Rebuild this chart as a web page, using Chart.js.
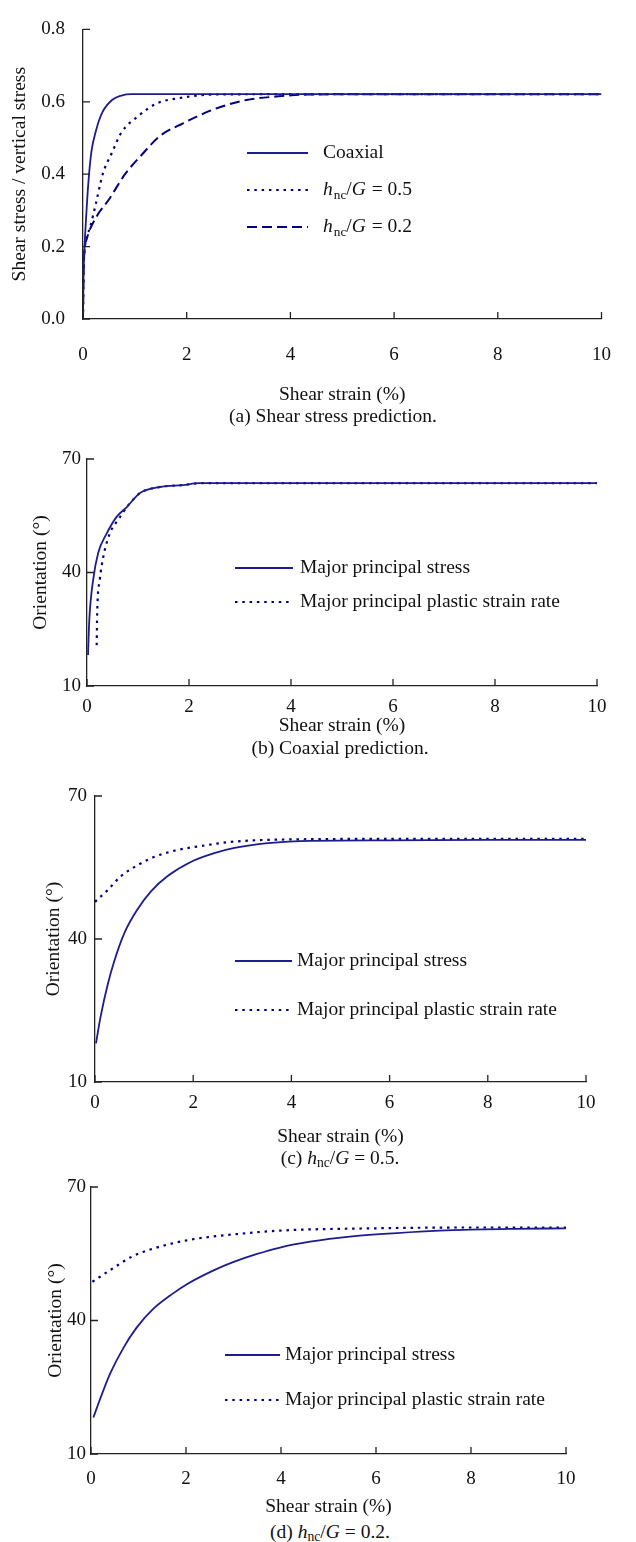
<!DOCTYPE html>
<html>
<head>
<meta charset="utf-8">
<script src="https://cdn.jsdelivr.net/npm/chart.js@4/dist/chart.umd.min.js"></script>
<style>
  body { margin: 0; background: #fff; }
  #page { position: relative; width: 636px; height: 1542px; overflow: hidden; }
  .panel { position: absolute; left: 0; }
  .cap { position: absolute; transform: translateX(-50%); white-space: nowrap;
         font-family: "Liberation Serif", serif; font-size: 19.5px; line-height: 22px; color: #111; }
  .cap sub { font-size: 0.7em; vertical-align: -0.25em; line-height: 0; }
</style>
</head>
<body>
<div id="page">
  <canvas id="cA" class="panel" width="636" height="410" style="top:0px"></canvas>
  <canvas id="cB" class="panel" width="636" height="310" style="top:430px"></canvas>
  <canvas id="cC" class="panel" width="636" height="380" style="top:770px"></canvas>
  <canvas id="cD" class="panel" width="636" height="360" style="top:1160px"></canvas>
  <div class="cap" style="left:333px; top:405px">(a) Shear stress prediction.</div>
  <div class="cap" style="left:340px; top:737px">(b) Coaxial prediction.</div>
  <div class="cap" style="left:340px; top:1147px">(c) <i>h</i><sub>nc</sub>/<i>G</i> = 0.5.</div>
  <div class="cap" style="left:330px; top:1521px">(d) <i>h</i><sub>nc</sub>/<i>G</i> = 0.2.</div>
</div>
<script>
// (a) shear stress / vertical stress vs shear strain (%)
const strainA_coax = [0, 0.01, 0.03, 0.06, 0.1, 0.16, 0.25, 0.37, 0.56, 0.74, 0.93, 2, 4, 6, 8, 10];
const stressA_coax = [0, 0.12, 0.2, 0.28, 0.37, 0.46, 0.52, 0.57, 0.605, 0.617, 0.621, 0.621, 0.621, 0.621, 0.621, 0.621];
const strainA_05 = [0, 0.01, 0.03, 0.13, 0.25, 0.38, 0.56, 0.74, 1.06, 1.43, 1.85, 2.47, 4, 6, 8, 10];
const stressA_05 = [0, 0.12, 0.19, 0.25, 0.32, 0.40, 0.46, 0.515, 0.56, 0.596, 0.61, 0.62, 0.621, 0.621, 0.621, 0.621];
const strainA_02 = [0, 0.01, 0.03, 0.07, 0.25, 0.5, 0.81, 1.11, 1.48, 1.92, 2.54, 3.15, 3.77, 4.33, 6, 8, 10];
const stressA_02 = [0, 0.12, 0.19, 0.22, 0.28, 0.33, 0.40, 0.45, 0.505, 0.54, 0.58, 0.605, 0.615, 0.62, 0.621, 0.621, 0.621];

// (b) coaxial: orientation (deg)
const strainB_stress = [0.02, 0.045, 0.12, 0.22, 0.39, 0.58, 0.78, 1.04, 1.43, 1.88, 2.2, 4, 6, 8, 10];
const angleB_stress = [18.2, 27.4, 38, 45.2, 50.4, 54.7, 57.3, 61, 62.6, 63.1, 63.6, 63.6, 63.6, 63.6, 63.6];
const strainB_rate = [0.19, 0.2, 0.25, 0.32, 0.45, 0.61, 0.81, 1.04, 1.43, 1.88, 2.2, 4, 6, 8, 10];
const angleB_rate = [20.8, 29.3, 38, 44.2, 50.4, 53.9, 57.8, 61, 62.6, 63.1, 63.6, 63.6, 63.6, 63.6, 63.6];

// (c) hnc/G = 0.5
const strainC_stress = [0.02, 0.11, 0.26, 0.39, 0.6, 0.87, 1.14, 1.48, 1.96, 2.43, 2.84, 3.52, 4.4, 6, 8, 10];
const angleC_stress = [18.1, 23.5, 30.5, 35.3, 41.3, 46.3, 50.0, 53.2, 56.2, 58, 59.1, 60.1, 60.6, 60.7, 60.8, 60.8];
const strainC_rate = [0, 0.26, 0.53, 0.87, 1.2, 1.69, 2.16, 2.7, 3.52, 6, 8, 10];
const angleC_rate = [47.8, 50.3, 53.2, 55.5, 57.2, 58.7, 59.5, 60.3, 60.8, 61, 61, 61];

// (d) hnc/G = 0.2
const strainD_stress = [0.05, 0.19, 0.4, 0.68, 0.96, 1.31, 1.73, 2.01, 2.57, 2.99, 3.48, 3.98, 4.61, 5.5, 6.36, 7.62, 8.89, 10];
const angleD_stress = [18.2, 22.3, 28.0, 33.8, 38.4, 42.6, 46.1, 48.1, 51.2, 53.1, 54.9, 56.4, 57.7, 58.9, 59.6, 60.3, 60.6, 60.7];
const strainD_rate = [0.03, 0.4, 0.89, 1.45, 2.01, 2.36, 2.86, 3.98, 5.87, 8, 10];
const angleD_rate = [48.7, 51.3, 54.5, 56.6, 58.0, 58.6, 59.2, 60.2, 60.7, 60.9, 60.9];

// legend labels (rich text parts)
const labelCoaxial = [{ t: 'Coaxial' }];
const label05 = [{ t: 'h', i: true }, { t: 'nc', sub: true }, { t: '/' }, { t: 'G', i: true }, { t: ' = 0.5' }];
const label02 = [{ t: 'h', i: true }, { t: 'nc', sub: true }, { t: '/' }, { t: 'G', i: true }, { t: ' = 0.2' }];
const labelStress = [{ t: 'Major principal stress' }];
const labelRate = [{ t: 'Major principal plastic strain rate' }];

const FONT = 'Liberation Serif';
const SOLID = '#1c1c8e';
const NAVY = '#000080';

const pts = (xs, ys) => xs.map((x, i) => ({ x: x, y: ys[i] }));

function solid(xs, ys, parts) {
  return { data: pts(xs, ys), parts: parts, borderColor: SOLID, borderWidth: 1.8, pointRadius: 0, cubicInterpolationMode: 'monotone' };
}
function dotted(xs, ys, parts) {
  return { data: pts(xs, ys), parts: parts, borderColor: NAVY, borderWidth: 2.2, borderDash: [2.5, 4.8], pointRadius: 0, cubicInterpolationMode: 'monotone' };
}
function dashed(xs, ys, parts) {
  return { data: pts(xs, ys), parts: parts, borderColor: NAVY, borderWidth: 2, borderDash: [10, 5], pointRadius: 0, cubicInterpolationMode: 'monotone' };
}

// inward tick marks on both axes
const inTicks = {
  id: 'inTicks',
  afterDraw(chart) {
    const { ctx, chartArea: a, scales: { x, y } } = chart;
    ctx.save();
    ctx.strokeStyle = '#222';
    ctx.lineWidth = 1.3;
    ctx.beginPath();
    x.ticks.forEach(t => {
      const px = x.getPixelForValue(t.value);
      ctx.moveTo(px, a.bottom); ctx.lineTo(px, a.bottom - 7);
    });
    y.ticks.forEach(t => {
      const py = y.getPixelForValue(t.value);
      ctx.moveTo(a.left, py); ctx.lineTo(a.left + 7, py);
    });
    ctx.stroke();
    ctx.restore();
  }
};

// legend with italic / subscript text
const richLegend = {
  id: 'richLegend',
  afterDatasetsDraw(chart, args, opts) {
    const ctx = chart.ctx;
    ctx.save();
    chart.data.datasets.forEach((ds, i) => {
      const y = opts.ys[i];
      ctx.strokeStyle = ds.borderColor;
      ctx.lineWidth = ds.borderWidth;
      ctx.setLineDash(ds.borderDash || []);
      ctx.beginPath(); ctx.moveTo(opts.x0, y); ctx.lineTo(opts.x1, y); ctx.stroke();
      ctx.setLineDash([]);
      ctx.fillStyle = '#111';
      ctx.textBaseline = 'middle';
      let x = opts.textX;
      ds.parts.forEach(p => {
        const size = p.sub ? opts.size * 0.68 : opts.size;
        ctx.font = (p.i ? 'italic ' : '') + size + 'px "' + FONT + '"';
        ctx.fillText(p.t, x, y + (p.sub ? opts.size * 0.3 : 0));
        x += ctx.measureText(p.t).width + (p.i ? 1 : 0);
      });
    });
    ctx.restore();
  }
};

function makePanel(id, datasets, o) {
  return new Chart(document.getElementById(id), {
    type: 'line',
    data: { datasets: datasets },
    plugins: [inTicks, richLegend],
    options: {
      responsive: false,
      animation: false,
      layout: { padding: { left: 0, bottom: 0, top: o.top, right: o.right } },
      plugins: {
        legend: { display: false },
        tooltip: { enabled: false },
        richLegend: o.legend
      },
      scales: {
        x: {
          type: 'linear', min: 0, max: 10,
          afterFit: s => { s.height = o.xh; },
          grid: { display: false, drawTicks: false },
          border: { display: true, color: '#222', width: 1.3 },
          ticks: { stepSize: 2, padding: o.xpad, color: '#111', font: { family: FONT, size: 19 } },
          title: { display: true, text: 'Shear strain (%)', color: '#111',
                   padding: { top: 0, bottom: o.xtpad }, font: { family: FONT, size: 19.5 } }
        },
        y: {
          type: 'linear', min: o.ymin, max: o.ymax,
          afterFit: s => { s.width = o.yw; },
          grid: { display: false, drawTicks: false },
          border: { display: true, color: '#222', width: 1.3 },
          ticks: { stepSize: o.ystep, padding: o.ypad, color: '#111', font: { family: FONT, size: 19 },
                   callback: o.yfmt || (v => v) },
          title: { display: true, text: o.ytitle, color: '#111',
                   padding: { top: o.ytpad, bottom: 0 }, font: { family: FONT, size: 19.5 } }
        }
      }
    }
  });
}

makePanel('cA', [
  solid(strainA_coax, stressA_coax, labelCoaxial),
  dotted(strainA_05, stressA_05, label05),
  dashed(strainA_02, stressA_02, label02)
], {
  top: 25, right: 12, xh: 91, yw: 83, xpad: 25, xtpad: 3, ypad: 18, ytpad: 8,
  ymin: 0, ymax: 0.8, ystep: 0.2, yfmt: v => v.toFixed(1), ytitle: 'Shear stress / vertical stress',
  legend: { x0: 247, x1: 308, textX: 323, ys: [153, 190, 227], size: 19.5 }
});

makePanel('cB', [
  solid(strainB_stress, angleB_stress, labelStress),
  dotted(strainB_rate, angleB_rate, labelRate)
], {
  top: 29, right: 39, xh: 54, yw: 87, xpad: 10, xtpad: 2, ypad: 6, ytpad: 29,
  ymin: 10, ymax: 70, ystep: 30, ytitle: 'Orientation (°)',
  legend: { x0: 235, x1: 293, textX: 300, ys: [138, 172], size: 19.5 }
});

makePanel('cC', [
  solid(strainC_stress, angleC_stress, labelStress),
  dotted(strainC_rate, angleC_rate, labelRate)
], {
  top: 26, right: 50, xh: 68, yw: 95, xpad: 10, xtpad: 1, ypad: 8, ytpad: 42,
  ymin: 10, ymax: 70, ystep: 30, ytitle: 'Orientation (°)',
  legend: { x0: 235, x1: 292, textX: 297, ys: [191, 240], size: 19.5 }
});

makePanel('cD', [
  solid(strainD_stress, angleD_stress, labelStress),
  dotted(strainD_rate, angleD_rate, labelRate)
], {
  top: 27, right: 70, xh: 66, yw: 91, xpad: 14, xtpad: 1, ypad: 5, ytpad: 44,
  ymin: 10, ymax: 70, ystep: 30, ytitle: 'Orientation (°)',
  legend: { x0: 225, x1: 280, textX: 285, ys: [195, 240], size: 19.5 }
});
</script>
</body>
</html>
